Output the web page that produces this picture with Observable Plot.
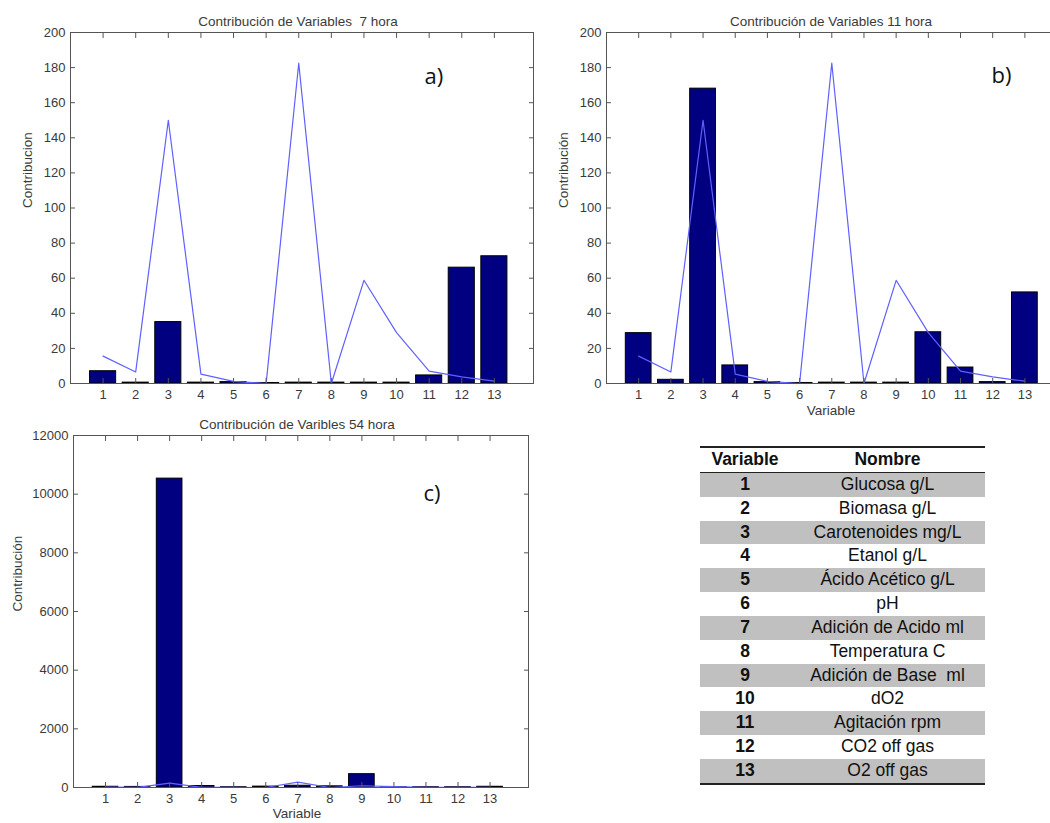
<!DOCTYPE html>
<html><head><meta charset="utf-8">
<script src="https://cdn.jsdelivr.net/npm/d3@7"></script>
<script src="https://cdn.jsdelivr.net/npm/@observablehq/plot@0.6"></script>
<style>
html,body{margin:0;padding:0}
body{width:1050px;height:823px;overflow:hidden;background:#fff;position:relative;font-family:"Liberation Sans",Arial,sans-serif}
.panel{position:absolute;width:545px}
.panel svg{overflow:visible;max-width:none !important}
#tbl{position:absolute;left:700px;top:446px;width:285px;border-collapse:collapse;font-family:"Liberation Sans",Arial,sans-serif;font-size:17.5px;color:#111}
#tbl th,#tbl td{padding:0;height:23.85px;line-height:23.85px;text-align:center;white-space:pre}
#tbl thead tr{border-top:2px solid #222;border-bottom:1.5px solid #222}
#tbl tbody tr:last-child{border-bottom:2px solid #222}
#tbl tbody tr.g{background:#c0c0c0}
#tbl td.n{font-weight:bold;width:90px}
</style></head><body>
<div id="pa" class="panel" style="left:0;top:0"></div>
<div id="pb" class="panel" style="left:530px;top:0"></div>
<div id="pc" class="panel" style="left:0;top:400px"></div>
<table id="tbl"></table>
<script>
// ---- data ----
const variables = [1,2,3,4,5,6,7,8,9,10,11,12,13];
const limitLine = [15.6, 6.6, 150, 5.3, 1.2, 0, 182.5, 0, 58.8, 29, 7, 3.8, 1.3];
const contrib7h = [7, 0.5, 35, 0.5, 0.8, 0.3, 0.5, 0.5, 0.5, 0.5, 4.6, 66, 72.5];
const contrib11h = [28.7, 2.1, 168, 10.3, 0.8, 0.3, 0.5, 0.5, 0.5, 29.2, 9.1, 0.8, 51.9];
const contrib54h = [25, 20, 10530, 50, 10, 30, 60, 40, 455, 10, 10, 10, 25];
const yTicksSmall = [0,20,40,60,80,100,120,140,160,180,200];
const yTicksLarge = [0,2000,4000,6000,8000,10000,12000];
const tableHeader = ["Variable", "Nombre"];
const variableNames = ["Glucosa g/L","Biomasa g/L","Carotenoides mg/L","Etanol g/L","Ácido Acético g/L","pH","Adición de Acido ml","Temperatura C","Adición de Base  ml","dO2","Agitación rpm","CO2 off gas","O2 off gas"];

function panel(cfg) {
  const data = variables.map((v, i) => ({v, c: cfg.values[i], lim: limitLine[i]}));
  const txt = {fontFamily: "Liberation Sans, Arial, sans-serif", fill: "#3a3a3a"};
  const marks = [
    Plot.rect(data, {x1: d => d.v - 0.4, x2: d => d.v + 0.4, y1: d => 0, y2: "c", fill: "#000080", stroke: "#000", strokeWidth: 1}),
    Plot.line(data, {x: "v", y: "lim", stroke: "#6060ff", strokeWidth: 1.2}),
    Plot.frame({stroke: "#555", strokeWidth: 1}),
    Plot.axisX({ticks: variables, tickSize: -5, tickPadding: 11, label: null, stroke: "#555", fill: "#3a3a3a"}),
    Plot.axisX({anchor: "top", ticks: variables, tickSize: -5, tickFormat: () => "", label: null, stroke: "#555"}),
    Plot.axisY({ticks: cfg.yTicks, tickSize: -5, tickPadding: 10, tickFormat: d => String(d), label: null, stroke: "#555", fill: "#3a3a3a"}),
    Plot.axisY({anchor: "right", ticks: cfg.yTicks, tickSize: -5, tickFormat: () => "", label: null, stroke: "#555"}),
    Plot.text([cfg.title], {frameAnchor: "top", dy: -16, dx: -4, fontSize: 13.5, ...txt}),
    Plot.text([cfg.ylabel], {frameAnchor: "left", dx: cfg.ylabelDx, rotate: -90, fontSize: 13.5, ...txt}),
    Plot.text([cfg.letter], {frameAnchor: "top-left", dx: cfg.letterDx, dy: cfg.letterDy, fontSize: 22, fontFamily: "Open Sans, sans-serif", fill: "#111"})
  ];
  if (cfg.xlabel) marks.push(Plot.text([cfg.xlabel], {frameAnchor: "bottom", dy: cfg.xlabelDy, dx: -4, fontSize: 13.5, ...txt}));
  return Plot.plot({
    width: cfg.width, height: cfg.height,
    marginLeft: cfg.ml, marginRight: cfg.mr, marginTop: cfg.mt, marginBottom: cfg.mb,
    style: {fontFamily: "Liberation Sans, Arial, sans-serif", fontSize: "13px", color: "#3a3a3a", background: "transparent", overflow: "visible", maxWidth: "none"},
    x: {domain: [0, 14.2]},
    y: {domain: cfg.yDomain},
    marks
  });
}

document.getElementById("pa").append(panel({
  values: contrib7h, title: "Contribución de Variables  7 hora", ylabel: "Contribucion", xlabel: null,
  yDomain: [0, 200], yTicks: yTicksSmall, width: 545, height: 400, ml: 70, mr: 12, mt: 32, mb: 17,
  ylabelDx: -43, letter: "a)", letterDx: 354, letterDy: 36
}));
document.getElementById("pb").append(panel({
  values: contrib11h, title: "Contribución de Variables 11 hora", ylabel: "Contribución", xlabel: "Variable",
  yDomain: [0, 200], yTicks: yTicksSmall, width: 545, height: 420, ml: 76, mr: 12, mt: 32, mb: 37,
  ylabelDx: -43, xlabelDy: 31, letter: "b)", letterDx: 385, letterDy: 35
}));
document.getElementById("pc").append(panel({
  values: contrib54h, title: "Contribución de Varibles 54 hora", ylabel: "Contribución", xlabel: "Variable",
  yDomain: [0, 12000], yTicks: yTicksLarge, width: 545, height: 423, ml: 73, mr: 17, mt: 35, mb: 36,
  ylabelDx: -56, xlabelDy: 30, letter: "c)", letterDx: 350, letterDy: 50
}));

// ---- table ----
const tbl = document.getElementById("tbl");
const thead = document.createElement("thead");
const hr = document.createElement("tr");
tableHeader.forEach(h => { const th = document.createElement("th"); th.textContent = h; hr.append(th); });
thead.append(hr); tbl.append(thead);
const tbody = document.createElement("tbody");
variables.forEach((v, i) => {
  const tr = document.createElement("tr");
  if (i % 2 === 0) tr.className = "g";
  const a = document.createElement("td"); a.className = "n"; a.textContent = v;
  const b = document.createElement("td"); b.textContent = variableNames[i];
  tr.append(a, b); tbody.append(tr);
});
tbl.append(tbody);
</script>
</body></html>
